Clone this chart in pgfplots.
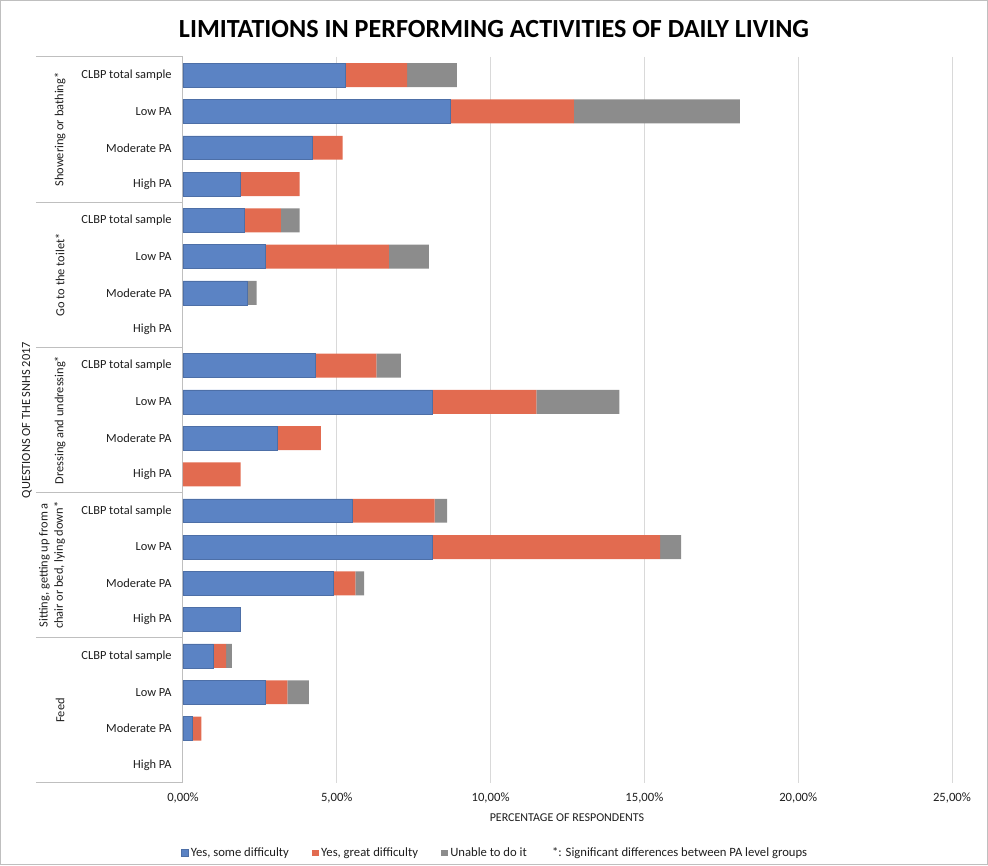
\documentclass[border=0pt]{standalone}
\usepackage{fontspec}
\setmainfont{Carlito}
\usepackage{pgfplots}
\pgfplotsset{compat=1.18}
\usepackage{pgfplotstable}
\definecolor{cblue}{RGB}{91,131,196}
\definecolor{corange}{RGB}{226,107,80}
\definecolor{cgray}{RGB}{140,140,140}
\definecolor{gridc}{RGB}{217,217,217}
\definecolor{linec}{RGB}{191,191,191}
\definecolor{txt}{RGB}{30,30,30}

\pgfplotstableread{
row some great unable
0  5.28 2.01 1.61
1  8.70 4.01 5.39
2  4.19 1.00 0
3  1.87 1.92 0
4  1.99 1.19 0.61
5  2.69 4.00 1.30
6  2.09 0    0.30
7  0    0    0
8  4.29 2.00 0.79
9  8.10 3.39 2.70
10 3.08 1.40 0
11 0    1.87 0
12 5.49 2.69 0.41
13 8.10 7.41 0.68
14 4.89 0.71 0.29
15 1.87 0    0
16 0.97 0.43 0.19
17 2.69 0.70 0.70
18 0.30 0.30 0
19 0    0    0
}\data

\begin{document}
\begin{tikzpicture}
\useasboundingbox (-137.25pt,-62.25pt) rectangle (603.75pt,587.25pt);
\draw[linec, line width=0.75pt] (-136.5pt,-61.5pt) rectangle (603pt,586.5pt);
\begin{axis}[
  at={(0pt,0pt)}, anchor=south west,
  scale only axis, width=576.75pt, height=544.5pt,
  xbar stacked, bar width=0.66,
  xmin=0, xmax=25, ymin=-0.5, ymax=19.5, y dir=reverse,
  enlargelimits=false,
  axis lines*=left,
  x axis line style={draw=none},
  y axis line style={draw=linec, line width=0.75pt},
  xmajorgrids, grid style={gridc, line width=0.75pt},
  xtick={0,5,10,15,20,25},
  xticklabels={{0,00\%},{5,00\%},{10,00\%},{15,00\%},{20,00\%},{25,00\%}},
  xtick style={draw=none}, ytick style={draw=none},
  ytick={0,...,19},
  yticklabels={CLBP total sample,Low PA,Moderate PA,High PA,
               CLBP total sample,Low PA,Moderate PA,High PA,
               CLBP total sample,Low PA,Moderate PA,High PA,
               CLBP total sample,Low PA,Moderate PA,High PA,
               CLBP total sample,Low PA,Moderate PA,High PA},
  /pgf/number format/assume math mode=true,
  xticklabel style={font=\fontsize{9.5}{11}\selectfont, text=txt, yshift=-4pt},
  yticklabel style={font=\fontsize{9.3}{11}\selectfont, text=txt, anchor=east, xshift=-5pt},
  legend columns=4,
  legend style={at={(0.406,-0.0964)}, anchor=center, draw=none,
    font=\fontsize{9.5}{11}\selectfont, text=txt,
    /tikz/every even column/.append style={column sep=15pt}},
  legend image code/.code={\fill[#1] (0pt,-2.6pt) rectangle (5.2pt,2.6pt);},
]
\addplot[fill=cblue, draw=cblue!85!black, line width=0.4pt] table[x=some, y=row]{\data};
\addlegendentry{Yes, some difficulty}
\addplot[fill=corange, draw=none] table[x=great, y=row]{\data};
\addlegendentry{Yes, great difficulty}
\addplot[fill=cgray, draw=none] table[x=unable, y=row]{\data};
\addlegendentry{Unable to do it}
\addlegendimage{empty legend}
\addlegendentry{*: Significant differences between PA level groups}
\end{axis}
% category table lines
\foreach \yy in {544.5,435.6,326.7,217.8,108.9,0} {
  \draw[linec, line width=0.75pt] (-110.25pt,\yy pt) -- (0pt,\yy pt);
}
\begin{scope}[every node/.style={font=\fontsize{9.3}{11.5}\selectfont, text=txt, rotate=90, inner sep=0pt}]
\node at (-92.25pt,490.05pt) {Showering or bathing*};
\node at (-92.25pt,381.15pt) {Go to the toilet*};
\node at (-92.25pt,272.25pt) {Dressing and undressing*};
\node[align=center] at (-98.25pt,163.35pt) {Sitting, getting up from a\\chair or bed, lying down*};
\node at (-92.25pt,54.45pt) {Feed};
\node at (-117pt,272.25pt) {QUESTIONS OF THE SNHS 2017};
\end{scope}
\node[font=\fontsize{19.6}{22}\selectfont\bfseries, text=black] at (233.25pt,565.5pt) {LIMITATIONS IN PERFORMING ACTIVITIES OF DAILY LIVING};
\node[font=\fontsize{9}{10}\selectfont, text=txt] at (288pt,-26.25pt) {PERCENTAGE OF RESPONDENTS};
\end{tikzpicture}
\end{document}
